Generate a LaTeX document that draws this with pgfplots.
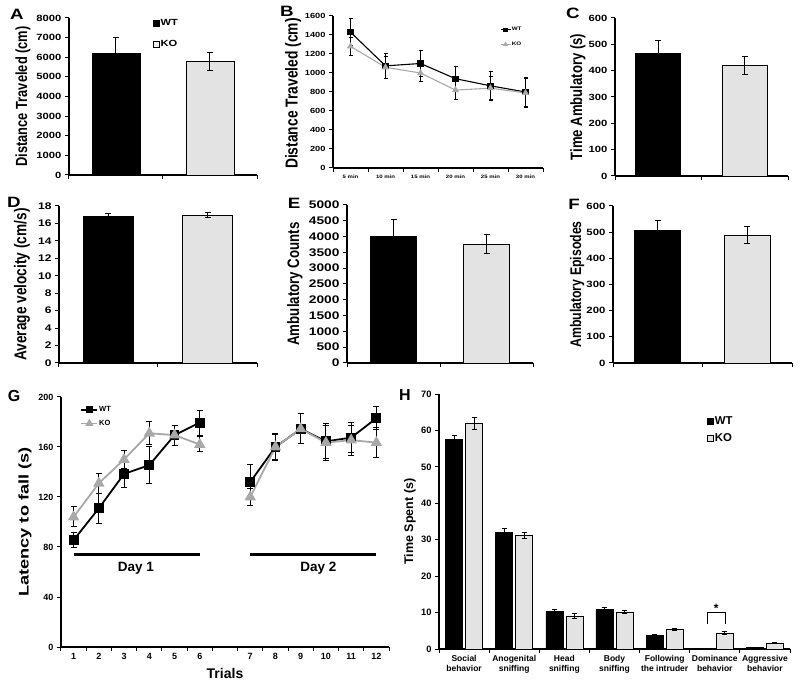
\documentclass[border=0pt]{standalone}
\usepackage{fontspec}
\setmainfont{Liberation Sans}
\newfontfamily\fh[FakeStretch=1.25]{Liberation Sans}
\newfontfamily\fv[FakeStretch=0.8]{Liberation Sans}
\newfontfamily\fg[FakeStretch=1.3]{Liberation Sans}
\usepackage{pgfplots}
\pgfplotsset{compat=1.18}
\definecolor{kobar}{HTML}{E3E3E3}
\definecolor{koline}{HTML}{A8A8A8}
\newcommand\fs[1]{\fontsize{#1}{#1}\selectfont}
\pgfplotsset{
  panel/.style={scale only axis, anchor=south west, axis lines=left,
    axis line style={-, line width=1.1pt, black},
    tick style={black, line width=1pt},
    tick align=outside, major tick length=4pt, minor tick length=4pt,
    ymin=0, clip=false, scaled y ticks=false,
    /pgf/number format/assume math mode=true,
    /pgf/number format/1000 sep={},
    legend cell align=left},
  twobar/.style={xmin=0.5, xmax=2.5, xtick={0.5,1.5,2.5}, xticklabels={}},
  errs/.style={/pgfplots/error bars/y dir=both, /pgfplots/error bars/y explicit,
    /pgfplots/error bars/error bar style={line width=1pt, black},
    /pgfplots/error bars/error mark options={rotate=90, mark size=3pt, line width=1pt, black}},
  errthin/.style={/pgfplots/error bars/y dir=both, /pgfplots/error bars/y explicit,
    /pgfplots/error bars/error bar style={line width=0.7pt, black},
    /pgfplots/error bars/error mark options={rotate=90, mark size=2pt, line width=0.7pt, black}},
  errmid/.style={/pgfplots/error bars/y dir=both, /pgfplots/error bars/y explicit,
    /pgfplots/error bars/error bar style={line width=0.9pt, black},
    /pgfplots/error bars/error mark options={rotate=90, mark size=2.5pt, line width=0.9pt, black}},
  wtbar/.style={ybar, bar shift=0pt, fill=black, draw=black, line width=0.6pt, forget plot},
  kobarst/.style={ybar, bar shift=0pt, fill=kobar, draw=black, line width=0.6pt, forget plot},
  sqimg/.style={legend image code/.code={\draw[##1, line width=0.6pt] (0pt,-3pt) rectangle (6pt,3pt);}},
  lineimg/.style={legend image code/.code={\draw[##1, mark repeat=2, mark phase=2] plot coordinates {(0pt,0pt)(#1/2,0pt)(#1,0pt)};}},
}
\begin{document}
\begin{tikzpicture}
\useasboundingbox (0pt,0pt) rectangle (800pt,688pt);
% panel letters
\node[font=\fh\bfseries\fs{15}] at (17pt,674pt) {A};
\node[font=\fh\bfseries\fs{15}] at (287pt,677pt) {B};
\node[font=\fh\bfseries\fs{15}] at (573pt,675pt) {C};
\node[font=\fh\bfseries\fs{15}] at (14pt,486pt) {D};
\node[font=\fh\bfseries\fs{15}] at (294pt,485pt) {E};
\node[font=\fh\bfseries\fs{15}] at (574pt,484pt) {F};
\node[font=\bfseries\fs{16}] at (14pt,292pt) {G};
\node[font=\bfseries\fs{16}] at (405pt,293pt) {H};

% ---------- A ----------
\begin{axis}[panel, twobar, at={(69pt,513pt)}, width=188pt, height=157pt,
  ymax=8000, ytick={0,1000,...,8000},
  tick label style={font=\fh\bfseries\fs{9}},
  ylabel={\fv\bfseries\fs{16.1}Distance Traveled (cm)},
  ylabel style={at={(axis description cs:-0.245,0.5)}, anchor=center},
  legend style={draw=none, fill=none, at={(0.43,1.01)}, anchor=north west,
    font=\fh\bfseries\fs{8.9}, row sep=11pt, nodes={inner sep=1pt}}]
\addlegendimage{sqimg, fill=black, draw=black}\addlegendentry{WT}
\addlegendimage{sqimg, fill=kobar!60!white, draw=black}\addlegendentry{KO}
\addplot[wtbar, bar width=48pt, errs] coordinates {(1,6220) +- (0,780)};
\addplot[kobarst, bar width=48pt, errs] coordinates {(2,5800) +- (0,450)};
\end{axis}

% ---------- B ----------
\begin{axis}[panel, at={(333pt,520pt)}, width=210pt, height=152pt,
  xmin=0.5, xmax=6.5, xtick={0.5,1.5,...,6.5}, xticklabels={},
  extra x ticks={1,2,3,4,5,6},
  extra x tick labels={5 min,10 min,15 min,20 min,25 min,30 min},
  extra x tick style={major tick length=0pt},
  ymax=1600, ytick={0,200,...,1600},
  y tick label style={font=\fh\bfseries\fs{7.4}},
  x tick label style={font=\fh\bfseries\fs{4.8}, yshift=-3pt},
  ylabel={\fv\bfseries\fs{17.3}Distance Traveled (cm)},
  ylabel style={at={(axis description cs:-0.19,0.49)}, anchor=center},
  legend style={draw=none, fill=none, at={(0.78,0.945)}, anchor=north west,
    font=\fh\bfseries\fs{5}, row sep=8pt, nodes={inner sep=0.8pt}}]
\addlegendimage{lineimg=10pt, black, line width=1pt, mark=square*, mark size=1.6pt}\addlegendentry{WT}
\addlegendimage{lineimg=10pt, koline, line width=1pt, mark=triangle*, mark size=2pt}\addlegendentry{KO}
\addplot[black, line width=1.1pt, mark=square*, mark size=2.6pt, errthin, forget plot]
  coordinates {(1,1430) +- (0,140) (2,1075) +- (0,130) (3,1100) +- (0,135)
               (4,940) +- (0,130) (5,865) +- (0,150) (6,800) +- (0,150)};
\addplot[koline, line width=1.1pt, mark=triangle*, mark size=3pt, errthin, forget plot]
  coordinates {(1,1280) +- (0,90) (2,1060) +- (0,120) (3,1000) +- (0,90)
               (4,820) +- (0,95) (5,840) +- (0,120) (6,790) +- (0,150)};
\end{axis}

% ---------- C ----------
\begin{axis}[panel, twobar, at={(615pt,512pt)}, width=173pt, height=158pt,
  ymax=600, ytick={0,100,...,600},
  tick label style={font=\fh\bfseries\fs{9}},
  ylabel={\fv\bfseries\fs{16.4}Time Ambulatory (s)},
  ylabel style={at={(axis description cs:-0.214,0.5)}, anchor=center}]
\addplot[wtbar, bar width=45pt, errs] coordinates {(1,465) +- (0,50)};
\addplot[kobarst, bar width=45pt, errs] coordinates {(2,420) +- (0,33)};
\end{axis}

% ---------- D ----------
\begin{axis}[panel, twobar, at={(59pt,325pt)}, width=198pt, height=157pt,
  ymax=18, ytick={0,2,...,18},
  tick label style={font=\fh\bfseries\fs{9.6}},
  ylabel={\fv\bfseries\fs{17.1}Average velocity (cm/s)},
  ylabel style={at={(axis description cs:-0.187,0.5)}, anchor=center}]
\addplot[wtbar, bar width=50pt, errs] coordinates {(1,16.8) +- (0,0.3)};
\addplot[kobarst, bar width=50pt, errs] coordinates {(2,16.95) +- (0,0.3)};
\end{axis}

% ---------- E ----------
\begin{axis}[panel, twobar, at={(347pt,325pt)}, width=186pt, height=158pt,
  ymax=5000, ytick={0,500,...,5000},
  tick label style={font=\fh\bfseries\fs{11}},
  ylabel={\fv\bfseries\fs{16.6}Ambulatory Counts},
  ylabel style={at={(axis description cs:-0.28,0.5)}, anchor=center}]
\addplot[wtbar, bar width=46pt, errs] coordinates {(1,4020) +- (0,530)};
\addplot[kobarst, bar width=46pt, errs] coordinates {(2,3770) +- (0,310)};
\end{axis}

% ---------- F ----------
\begin{axis}[panel, twobar, at={(613pt,325pt)}, width=179pt, height=157pt,
  ymax=600, ytick={0,100,...,600},
  tick label style={font=\fh\bfseries\fs{9.1}},
  ylabel={\fv\bfseries\fs{15.4}Ambulatory Episodes},
  ylabel style={at={(axis description cs:-0.2,0.5)}, anchor=center}]
\addplot[wtbar, bar width=46pt, errs] coordinates {(1,507) +- (0,38)};
\addplot[kobarst, bar width=46pt, errs] coordinates {(2,489) +- (0,32)};
\end{axis}

% ---------- G ----------
\begin{axis}[panel, at={(61pt,41pt)}, width=328pt, height=250pt,
  xmin=0.5, xmax=13.5, xtick={0.5,1.5,...,13.5}, xticklabels={},
  extra x ticks={1,2,3,4,5,6,8,9,10,11,12,13},
  extra x tick labels={1,2,3,4,5,6,7,8,9,10,11,12},
  extra x tick style={major tick length=0pt},
  ymax=200, ytick={0,40,...,200},
  tick label style={font=\bfseries\fs{9}},
  x tick label style={yshift=-3pt},
  xlabel={\bfseries\fs{14}Trials},
  xlabel style={at={(axis description cs:0.5,-0.104)}, anchor=center},
  ylabel={\fg\bfseries\fs{14}Latency to fall (s)},
  ylabel style={at={(axis description cs:-0.11,0.5)}, anchor=center},
  legend style={draw=none, fill=none, at={(0.05,0.975)}, anchor=north west,
    font=\bfseries\fs{7.5}, row sep=5pt, nodes={inner sep=1pt}}]
\addlegendimage{lineimg=16pt, black, line width=1.6pt, mark=square*, mark size=2.6pt}\addlegendentry{WT}
\addlegendimage{lineimg=16pt, koline, line width=1.6pt, mark=triangle*, mark size=3.2pt}\addlegendentry{KO}
% day bars
\addplot[black, line width=2.6pt, forget plot] coordinates {(1,74) (6,74)};
\addplot[black, line width=2.6pt, forget plot] coordinates {(8,74) (13,74)};
\node[font=\bfseries\fs{13.5}] at (axis cs:3.47,63) {Day 1};
\node[font=\bfseries\fs{13.5}] at (axis cs:10.7,63) {Day 2};
% WT
\addplot[black, line width=1.8pt, mark=square*, mark size=4pt, errs, forget plot]
  coordinates {(1,85.5) +- (0,6) (2,111) +- (0,12) (3,138.5) +- (0,11)
               (4,145.5) +- (0,15) (5,169.5) +- (0,8) (6,179.5) +- (0,10)};
\addplot[black, line width=1.8pt, mark=square*, mark size=4pt, errs, forget plot]
  coordinates {(8,132) +- (0,14) (9,160) +- (0,11) (10,174.5) +- (0,12)
               (11,164.5) +- (0,14) (12,167.5) +- (0,12) (13,183) +- (0,9)};
% KO
\addplot[koline, line width=1.8pt, mark=triangle*, mark size=4.8pt, errs, forget plot]
  coordinates {(1,104) +- (0,8) (2,131) +- (0,8) (3,150) +- (0,7)
               (4,171) +- (0,9) (5,169.5) +- (0,8) (6,162) +- (0,6)};
\addplot[koline, line width=1.8pt, mark=triangle*, mark size=4.8pt, errs, forget plot]
  coordinates {(8,120) +- (0,7) (9,160) +- (0,10) (10,174.5) +- (0,12)
               (11,163.5) +- (0,14) (12,165.5) +- (0,12) (13,163.5) +- (0,12)};
\end{axis}

% ---------- H ----------
\begin{axis}[panel, at={(439pt,39pt)}, width=351pt, height=255pt,
  xmin=0.5, xmax=7.5, xtick={0.5,1.5,...,7.5}, xticklabels={},
  extra x ticks={1,2,3,4,5,6,7},
  extra x tick labels={{Social\\behavior},{Anogenital\\sniffing},{Head\\sniffing},{Body\\sniffing},{Following\\the intruder},{Dominance\\behavior},{Aggressive\\behavior}},
  extra x tick style={major tick length=0pt},
  ymax=70, ytick={0,10,...,70},
  y tick label style={font=\bfseries\fs{9.3}},
  x tick label style={font=\bfseries\fontsize{8.5}{10}\selectfont, align=center, yshift=-3pt},
  ylabel={\bfseries\fs{12.5}Time Spent (s)},
  ylabel style={at={(axis description cs:-0.083,0.5)}, anchor=center},
  legend style={draw=none, fill=none, at={(0.755,0.925)}, anchor=north west,
    font=\bfseries\fs{11.4}, row sep=6pt, nodes={inner sep=1pt}}]
\addlegendimage{sqimg, fill=black, draw=black}\addlegendentry{WT}
\addlegendimage{sqimg, fill=kobar, draw=black}\addlegendentry{KO}
% WT bars (left of each category)
\addplot[ybar, bar shift=0pt, bar width=17pt, fill=black, draw=black, line width=0.6pt, forget plot, errmid]
  coordinates {(0.8,57.5) +- (0,1.2) (1.8,32.1) +- (0,1.0) (2.8,10.4) +- (0,0.5) (3.8,10.9) +- (0,0.4)
               (4.8,3.7) +- (0,0.2) (5.8,0) +- (0,0) (6.8,0.4) +- (0,0.1)};
% KO bars (right of each category)
\addplot[ybar, bar shift=0pt, bar width=17pt, fill=kobar, draw=black, line width=0.6pt, forget plot, errmid]
  coordinates {(1.2,62) +- (0,1.6) (2.2,31.1) +- (0,0.8) (3.2,9.1) +- (0,0.7) (4.2,10.2) +- (0,0.4)
               (5.2,5.4) +- (0,0.3) (6.2,4.4) +- (0,0.3) (7.2,1.7) +- (0,0.2)};
% significance bracket
\addplot[black, line width=1pt, forget plot] coordinates {(5.85,7) (5.85,10) (6.22,10) (6.22,7)};
\node[font=\bfseries\fs{12}] at (axis cs:6.03,11.2) {*};
\end{axis}
\end{tikzpicture}
\end{document}
